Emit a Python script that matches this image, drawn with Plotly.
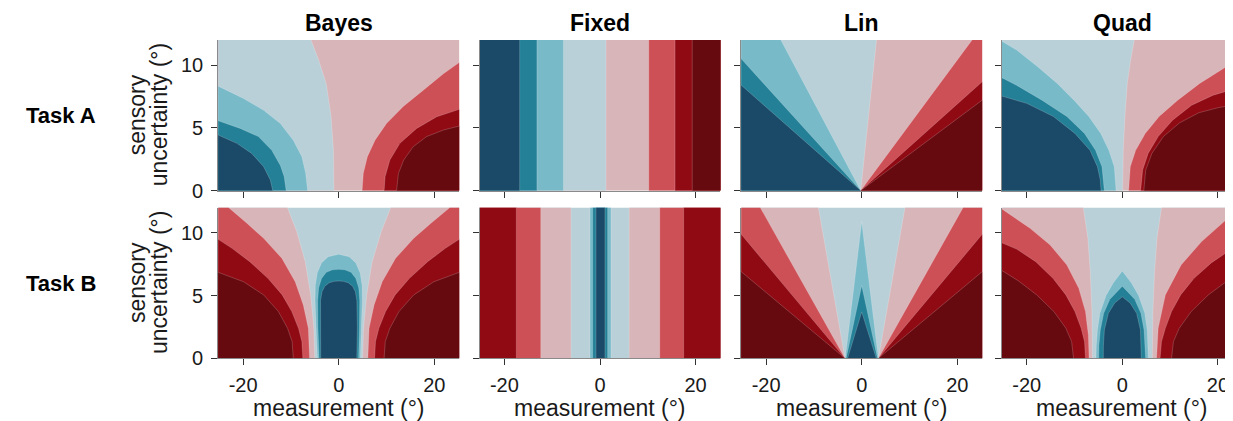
import plotly.graph_objects as go

# Geometry in window pixels.  The page body keeps
# its default 8px margin, so window pixels are shifted by that margin.
WIN_W, WIN_H, BODY_MARGIN = 1233, 421, 8
FIG_W, FIG_H = WIN_W - BODY_MARGIN, WIN_H - BODY_MARGIN

COLORS = dict(db="#1b4968", tl="#238096", lt="#79bac9", pb="#b9d0d8",
              pk="#d8b5b9", rd="#cd5057", dr="#900a14", dk="#660a10")

model_names = ["Bayes", "Fixed", "Lin", "Quad"]
task_names = ["Task A", "Task B"]
x_ticks = [-20, 0, 20]
x_tick_labels = ["-20", "0", "20"]
y_ticks = [0, 5, 10]
y_tick_labels = ["0", "5", "10"]
x_range = [-25.2, 25.2]
y_range = [0, 12]
x_title = "measurement (°)"
y_title_lines = ["sensory", "uncertainty (°)"]

# ---------------- Task A ----------------
# boundaries: (side, colour beyond boundary, x values, y values)
bayes_a_bg = "pk"
bayes_a_bounds = [
    ("L", "pb", [-1.0, -1.1, -1.6, -2.6, -4.2, -5.8], [0, 3.2, 5.9, 8.5, 10.4, 12]),
    ("L", "lt", [-6.5, -6.9, -7.7, -9.5, -12.2, -15.7, -19.9, -25.2], [0, 1.37, 2.7, 4.0, 5.35, 6.4, 7.34, 8.32]),
    ("L", "tl", [-11.0, -11.4, -12.2, -14.0, -16.8, -20.6, -25.2], [0, 1.1, 2.0, 3.2, 4.3, 4.95, 5.56]),
    ("L", "db", [-13.8, -14.3, -15.7, -18.2, -21.3, -24.1, -25.2], [0, 0.84, 1.9, 2.96, 3.76, 4.24, 4.42]),
    ("R", "rd", [4.9, 5.15, 6.0, 7.6, 10.0, 13.5, 17.7, 21.9, 25.2], [0, 1.37, 2.7, 4.0, 5.35, 6.7, 8.0, 9.3, 10.2]),
    ("R", "dr", [9.5, 9.7, 10.7, 12.8, 16.3, 20.5, 25.2], [0, 1.1, 2.43, 3.76, 4.95, 5.88, 6.47]),
    ("R", "dk", [12.1, 12.5, 13.6, 15.6, 18.4, 21.9, 25.2], [0, 1.37, 2.43, 3.5, 4.3, 4.82, 5.14]),
]
bayes_a_blobs = []

fixed_a_bg = "pk"
fixed_a_bounds = [
    ("L", "pb", [1.25, 1.25], [0, 12]),
    ("L", "lt", [-7.65, -7.65], [0, 12]),
    ("L", "tl", [-13.2, -13.2], [0, 12]),
    ("L", "db", [-16.8, -16.8], [0, 12]),
    ("R", "rd", [10.2, 10.2], [0, 12]),
    ("R", "dr", [15.7, 15.7], [0, 12]),
    ("R", "dk", [19.3, 19.3], [0, 12]),
]
fixed_a_blobs = []

lin_a_bg = "pk"
lin_a_bounds = [
    ("L", "pb", [-0.2, 3.1], [0, 12]),
    ("L", "lt", [-0.2, -16.9], [0, 12]),
    ("L", "tl", [-0.2, -25.2], [0, 10.5]),
    ("L", "db", [-0.2, -25.2], [0, 8.4]),
    ("R", "rd", [-0.2, 23.1], [0, 12]),
    ("R", "dr", [-0.2, 25.2], [0, 8.67]),
    ("R", "dk", [-0.2, 25.2], [0, 7.2]),
]
lin_a_blobs = []

quad_a_bg = "pk"
quad_a_bounds = [
    ("L", "pb", [0.07, 0.2, 0.55, 1.04, 1.74, 2.5], [0, 3.2, 5.9, 8.54, 10.4, 12]),
    ("L", "lt", [-1.3, -1.67, -2.8, -4.5, -7.0, -10.1, -13.6, -17.7, -22.1, -25.2], [0, 1.9, 3.2, 4.55, 5.9, 7.2, 8.54, 9.87, 11.2, 11.9]),
    ("L", "tl", [-3.76, -4.25, -5.6, -7.9, -11.6, -16.8, -21.7, -25.2], [0, 1.9, 3.2, 4.55, 5.9, 7.2, 8.3, 9.0]),
    ("L", "db", [-4.45, -4.6, -5.2, -6.75, -9.9, -14.4, -20.0, -25.2], [0, 0.84, 1.9, 3.2, 4.55, 5.9, 6.95, 7.53]),
    ("R", "rd", [1.32, 1.67, 2.8, 4.8, 7.7, 11.6, 16.2, 21.1, 23.1, 25.2], [0, 1.9, 3.2, 4.55, 5.9, 7.2, 8.54, 9.74, 10.2, 10.7]),
    ("R", "dr", [3.83, 4.25, 5.4, 7.5, 10.5, 14.5, 19.0, 23.1, 25.2], [0, 1.63, 2.96, 4.3, 5.6, 6.8, 7.6, 8.06, 8.4]),
    ("R", "dk", [4.5, 4.9, 6.2, 8.6, 12.0, 16.0, 20.0, 23.1, 25.2], [0, 1.63, 2.96, 4.3, 5.4, 6.2, 6.6, 6.8, 6.95]),
]
quad_a_blobs = []

# ---------------- Task B ----------------
bayes_b_bg = "pb"
bayes_b_bounds = [
    ("L", "pk", [-5.0, -5.2, -5.85, -7.0, -8.77, -10.7], [0, 2.39, 5.05, 7.7, 10.1, 12]),
    ("L", "rd", [-6.1, -6.35, -7.4, -9.1, -11.9, -15.7, -19.2, -23.0], [0, 2.39, 4.25, 6.1, 7.97, 9.56, 10.76, 12]),
    ("L", "dr", [-7.5, -7.7, -8.4, -9.8, -11.8, -14.8, -18.6, -22.3, -25.2], [0, 1.33, 2.39, 3.72, 5.05, 6.37, 7.7, 8.76, 9.48]),
    ("L", "dk", [-9.5, -9.74, -10.7, -12.6, -15.7, -19.9, -25.2], [0, 1.33, 2.39, 3.72, 5.05, 6.1, 6.85]),
    ("R", "pk", [5.0, 5.2, 5.85, 7.0, 8.9, 10.86], [0, 2.39, 5.05, 7.7, 10.1, 12]),
    ("R", "rd", [6.1, 6.35, 7.4, 9.1, 11.9, 15.7, 19.3, 23.2], [0, 2.39, 4.25, 6.1, 7.97, 9.56, 10.76, 12]),
    ("R", "dr", [7.5, 7.7, 8.4, 9.8, 11.8, 14.8, 18.6, 22.3, 25.2], [0, 1.33, 2.39, 3.72, 5.05, 6.37, 7.7, 8.76, 9.48]),
    ("R", "dk", [9.5, 9.74, 10.7, 12.6, 15.7, 19.9, 25.2], [0, 1.33, 2.39, 3.72, 5.05, 6.1, 6.85]),
]
# blobs: (colour, left x, left y, right x, right y)
bayes_b_blobs = [
    ("lt", [-4.45, -4.75, -4.95, -4.9, -4.5, -3.6, -2.2, 0], [0, 2.5, 4.6, 5.8, 6.8, 7.6, 8.1, 8.29],
           [4.45, 4.75, 4.95, 4.9, 4.5, 3.6, 2.2, 0], [0, 2.5, 4.6, 5.8, 6.8, 7.6, 8.1, 8.29]),
    ("tl", [-4.1, -4.35, -4.4, -4.2, -3.6, -2.6, -1.3, 0], [0, 2.5, 4.6, 5.6, 6.35, 6.85, 7.05, 7.09],
           [4.1, 4.35, 4.4, 4.2, 3.6, 2.6, 1.3, 0], [0, 2.5, 4.6, 5.6, 6.35, 6.85, 7.05, 7.09]),
    ("db", [-3.75, -3.9, -3.8, -3.5, -2.9, -2.0, -1.0, 0], [0, 2.5, 4.6, 5.3, 5.75, 6.02, 6.13, 6.16],
           [3.75, 3.9, 3.8, 3.5, 2.9, 2.0, 1.0, 0], [0, 2.5, 4.6, 5.3, 5.75, 6.02, 6.13, 6.16]),
]

fixed_b_bg = "pb"
fixed_b_bounds = [
    ("L", "pk", [-6.05, -6.05], [0, 12]),
    ("L", "rd", [-12.4, -12.4], [0, 12]),
    ("L", "dr", [-17.5, -17.5], [0, 12]),
    ("R", "pk", [6.1, 6.1], [0, 12]),
    ("R", "rd", [12.5, 12.5], [0, 12]),
    ("R", "dr", [17.5, 17.5], [0, 12]),
]
fixed_b_blobs = [
    ("lt", [-2.09, -2.09], [0, 12], [2.3, 2.3], [0, 12]),
    ("tl", [-1.53, -1.53], [0, 12], [1.6, 1.6], [0, 12]),
    ("db", [-0.84, -0.84], [0, 12], [1.04, 1.04], [0, 12]),
]

lin_b_bg = "pb"
lin_b_bounds = [
    ("L", "pk", [-3.5, -9.05], [0, 12]),
    ("L", "rd", [-3.5, -21.2], [0, 12]),
    ("L", "dr", [-3.5, -25.2], [0, 9.88]),
    ("L", "dk", [-3.5, -25.2], [0, 6.9]),
    ("R", "pk", [3.5, 9.05], [0, 12]),
    ("R", "rd", [3.5, 21.2], [0, 12]),
    ("R", "dr", [3.5, 25.2], [0, 9.88]),
    ("R", "dk", [3.5, 25.2], [0, 6.9]),
]
lin_b_blobs = [
    ("lt", [-3.45, 0], [0, 10.9], [3.5, 0], [0, 10.9]),
    ("tl", [-3.25, 0], [0, 5.8], [3.3, 0], [0, 5.8]),
    ("db", [-2.95, 0], [0, 3.7], [3.05, 0], [0, 3.7]),
]

quad_b_bg = "pb"
quad_b_bounds = [
    ("L", "pk", [-6.25, -6.35, -6.7, -7.2, -8.14], [0, 3.72, 6.9, 9.56, 12]),
    ("L", "rd", [-6.95, -7.1, -7.7, -9.1, -11.6, -15.1, -19.3, -25.2], [0, 1.86, 3.72, 5.58, 7.44, 9.03, 10.36, 11.9]),
    ("L", "dr", [-7.7, -7.9, -8.6, -9.9, -11.8, -14.5, -18.1, -22.1, -25.2], [0, 1.33, 2.39, 3.72, 5.05, 6.37, 7.7, 8.7, 9.2]),
    ("L", "dk", [-10.2, -10.6, -11.8, -14.3, -17.9, -21.7, -25.2], [0, 1.33, 2.39, 3.72, 5.05, 6.16, 7.0]),
    ("R", "pk", [6.27, 6.4, 6.75, 7.25, 8.2], [0, 3.72, 6.9, 9.56, 12]),
    ("R", "rd", [7.17, 7.5, 9.0, 12.3, 16.6, 20.7, 23.1, 25.2], [0, 2.39, 5.05, 7.44, 9.3, 10.7, 11.5, 12]),
    ("R", "dr", [7.9, 8.2, 9.0, 10.3, 12.2, 15.0, 18.6, 23.1, 25.2], [0, 1.33, 2.39, 3.72, 5.05, 6.37, 7.6, 8.76, 9.1]),
    ("R", "dk", [10.3, 10.7, 11.9, 14.4, 18.0, 21.8, 23.1, 25.2], [0, 1.33, 2.39, 3.72, 5.05, 6.1, 6.5, 6.9]),
]
quad_b_blobs = [
    ("lt", [-5.56, -5.45, -5.2, -4.7, -3.4, -1.9, 0], [0, 1.0, 2.25, 3.58, 5.0, 6.0, 6.96],
           [5.57, 5.46, 5.22, 4.72, 3.42, 1.92, 0], [0, 1.0, 2.25, 3.58, 5.0, 6.0, 6.96]),
    ("tl", [-5.0, -4.9, -4.6, -3.9, -2.6, 0], [0, 1.0, 2.25, 3.58, 4.7, 5.75],
           [4.88, 4.8, 4.55, 3.9, 2.6, 0], [0, 1.0, 2.25, 3.58, 4.7, 5.75]),
    ("db", [-4.0, -3.96, -3.75, -2.92, -1.6, 0], [0, 0.92, 2.25, 3.58, 4.4, 4.9],
           [4.04, 4.0, 3.8, 3.0, 1.65, 0], [0, 0.92, 2.25, 3.58, 4.4, 4.9]),
]

panels = [
    (bayes_a_bg, bayes_a_bounds, bayes_a_blobs),
    (fixed_a_bg, fixed_a_bounds, fixed_a_blobs),
    (lin_a_bg, lin_a_bounds, lin_a_blobs),
    (quad_a_bg, quad_a_bounds, quad_a_blobs),
    (bayes_b_bg, bayes_b_bounds, bayes_b_blobs),
    (fixed_b_bg, fixed_b_bounds, fixed_b_blobs),
    (lin_b_bg, lin_b_bounds, lin_b_blobs),
    (quad_b_bg, quad_b_bounds, quad_b_blobs),
]

# ---------------- layout geometry (window pixels) ----------------
PX_PER_UNIT = 4.78
ZERO_PX = [338.7, 600.0, 861.7, 1122.3]
ROWS_PX = [(40.0, 190.5), (207.7, 358.3)]
FONT = "Liberation Sans, Arial, Helvetica, sans-serif"
TXT = "#1a1a1a"
EDGE = "rgba(255,255,255,0.28)"
FAR, LOW, HIGH = 45, -1, 13


def pxx(px):
    return (px - BODY_MARGIN) / FIG_W


def pxy(py):
    return 1 - (py - BODY_MARGIN) / FIG_H


def side_poly(side, xs, ys):
    far = -FAR if side == "L" else FAR
    px = [far, xs[0]] + list(xs)
    py = [LOW, LOW] + list(ys)
    if ys[-1] >= y_range[1]:
        px += [xs[-1], far]
        py += [HIGH, HIGH]
    else:
        px += [far]
        py += [ys[-1]]
    return px, py


def blob_poly(lx, ly, rx, ry):
    px = [lx[0]] + list(lx)
    py = [LOW] + list(ly)
    if ly[-1] >= y_range[1]:
        px.append(lx[-1]); py.append(HIGH)
    if ry[-1] >= y_range[1]:
        px.append(rx[-1]); py.append(HIGH)
    px += list(reversed(rx)) + [rx[0]]
    py += list(reversed(ry)) + [LOW]
    return px, py


fig = go.Figure()
layout = {}
right_limit = WIN_W
for i, (bg, bounds, blobs) in enumerate(panels):
    r, c = divmod(i, 4)
    n = i + 1
    xa = "x" if n == 1 else f"x{n}"
    ya = "y" if n == 1 else f"y{n}"
    fig.add_trace(go.Scatter(x=[-FAR, FAR, FAR, -FAR], y=[LOW, LOW, HIGH, HIGH], fill="toself",
                             fillcolor=COLORS[bg], mode="lines", line=dict(width=0),
                             hoverinfo="skip", showlegend=False, xaxis=xa, yaxis=ya))
    for side, col, xs, ys in bounds:
        px, py = side_poly(side, xs, ys)
        fig.add_trace(go.Scatter(x=px, y=py, fill="toself", fillcolor=COLORS[col], mode="lines",
                                 line=dict(width=0.7, color=EDGE), hoverinfo="skip",
                                 showlegend=False, xaxis=xa, yaxis=ya))
    for col, lx, ly, rx, ry in blobs:
        px, py = blob_poly(lx, ly, rx, ry)
        fig.add_trace(go.Scatter(x=px, y=py, fill="toself", fillcolor=COLORS[col], mode="lines",
                                 line=dict(width=0.7, color=EDGE), hoverinfo="skip",
                                 showlegend=False, xaxis=xa, yaxis=ya))

    left_px = ZERO_PX[c] + x_range[0] * PX_PER_UNIT
    right_px = ZERO_PX[c] + x_range[1] * PX_PER_UNIT
    xr = list(x_range)
    if right_px > right_limit:
        xr[1] = x_range[0] + (right_limit - left_px) / PX_PER_UNIT
        right_px = right_limit
    top_px, bot_px = ROWS_PX[r]
    common = dict(showgrid=False, zeroline=False, showline=True, linecolor="#8a8a8a", linewidth=1,
                  ticks="outside", ticklen=6, tickwidth=1, tickcolor="#333333", automargin=False,
                  tickfont=dict(family=FONT, size=20, color=TXT))
    layout["xaxis" if n == 1 else f"xaxis{n}"] = dict(
        domain=[pxx(left_px), min(pxx(right_px), 1.0)], anchor=ya, range=xr,
        tickvals=x_ticks, ticktext=x_tick_labels, showticklabels=(r == 1),
        ticklabelstandoff=3, **common)
    layout["yaxis" if n == 1 else f"yaxis{n}"] = dict(
        domain=[pxy(bot_px), pxy(top_px)], anchor=xa, range=y_range,
        tickvals=y_ticks, ticktext=y_tick_labels, showticklabels=(c == 0),
        ticklabelstandoff=4, **common)

annotations = []
for c, name in enumerate(model_names):
    annotations.append(dict(text=f"<b>{name}</b>", x=pxx(ZERO_PX[c]), y=pxy(23),
                            xref="paper", yref="paper", showarrow=False, xanchor="center",
                            yanchor="middle", font=dict(family=FONT, size=23, color="black")))
    annotations.append(dict(text=x_title, x=pxx(ZERO_PX[c]), y=pxy(408),
                            xref="paper", yref="paper", showarrow=False, xanchor="center",
                            yanchor="middle", font=dict(family=FONT, size=23, color=TXT)))
for r, name in enumerate(task_names):
    yc = (ROWS_PX[r][0] + ROWS_PX[r][1]) / 2
    annotations.append(dict(text=f"<b>{name}</b>", x=pxx(61), y=pxy(yc),
                            xref="paper", yref="paper", showarrow=False, xanchor="center",
                            yanchor="middle", font=dict(family=FONT, size=22, color="black")))
    for k, line in enumerate(y_title_lines):
        annotations.append(dict(text=line, x=pxx(137 + 22 * k), y=pxy(yc),
                                xref="paper", yref="paper", showarrow=False, xanchor="center",
                                yanchor="middle", textangle=-90,
                                font=dict(family=FONT, size=23, color=TXT)))

fig.update_layout(width=FIG_W, height=FIG_H, autosize=False,
                  margin=dict(l=0, r=0, t=0, b=0), paper_bgcolor="white", plot_bgcolor="white",
                  annotations=annotations, **layout)
fig.write_html("out.html")
